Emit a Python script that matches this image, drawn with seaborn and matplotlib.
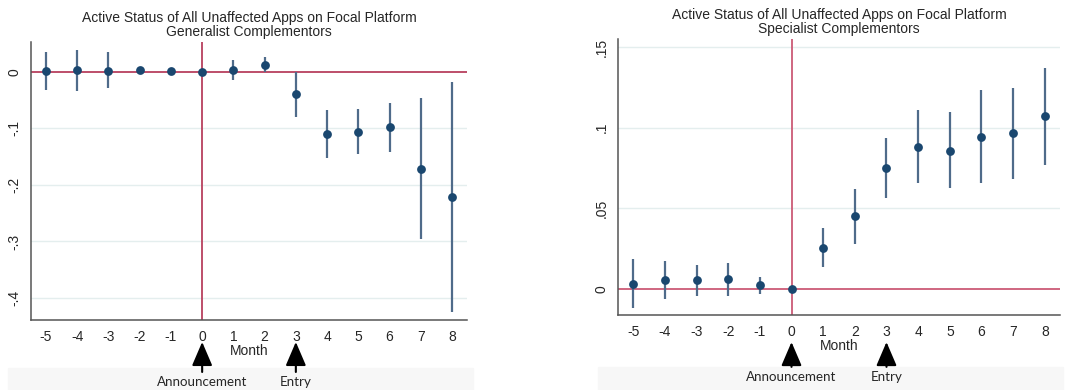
import numpy as np
import pandas as pd
import matplotlib.pyplot as plt
import seaborn as sns
from matplotlib.patches import Rectangle

sns.set_style("white")
plt.rcParams['font.family'] = ['Liberation Sans', 'DejaVu Sans']

months = [-5, -4, -3, -2, -1, 0, 1, 2, 3, 4, 5, 6, 7, 8]

gen_coef = [0.002, 0.003, 0.002, 0.004, 0.002, 0.0, 0.004, 0.013, -0.039, -0.110, -0.106, -0.098, -0.171, -0.221]
gen_hi = [0.036, 0.039, 0.035, 0.007, 0.004, 0.0, 0.021, 0.027, 0.0, -0.068, -0.065, -0.055, -0.046, -0.017]
gen_lo = [-0.032, -0.033, -0.029, 0.001, 0.0, 0.0, -0.015, 0.0, -0.079, -0.152, -0.146, -0.141, -0.296, -0.425]

spe_coef = [0.0035, 0.0058, 0.0056, 0.006, 0.0025, 0.0, 0.0258, 0.0452, 0.0749, 0.0883, 0.0858, 0.0944, 0.0967, 0.1072]
spe_hi = [0.0186, 0.0174, 0.0149, 0.0163, 0.0076, 0.0, 0.038, 0.062, 0.0938, 0.1109, 0.1097, 0.1237, 0.1249, 0.1372]
spe_lo = [-0.0114, -0.0062, -0.0043, -0.0043, -0.0031, 0.0, 0.0138, 0.0279, 0.0562, 0.066, 0.0626, 0.0656, 0.0685, 0.077]

gen_yticks = [0, -0.1, -0.2, -0.3, -0.4]
gen_ylabels = ["0", "-.1", "-.2", "-.3", "-.4"]
spe_yticks = [0, 0.05, 0.1, 0.15]
spe_ylabels = ["0", ".05", ".1", ".15"]

title_main = "Active Status of All Unaffected Apps on Focal Platform"
events = [(0, "Announcement"), (3, "Entry")]

navy = "#1a476f"
ci_col = "#4f6b8a"
grid_col = "#e4eeee"

fig = plt.figure(figsize=(10.7, 3.9), dpi=100)

# light grey band behind the event labels
fig.patches.append(Rectangle((8 / 1070, 0), 465 / 1070, 22 / 390, transform=fig.transFigure,
                             color="#f7f7f7", zorder=-5))
fig.patches.append(Rectangle((598 / 1070, 0), 465 / 1070, 23 / 390, transform=fig.transFigure,
                             color="#f7f7f7", zorder=-5))

ax1 = fig.add_axes([31 / 1070, 70 / 390, 436 / 1070, 278 / 390])
ax2 = fig.add_axes([618 / 1070, 75 / 390, 442 / 1070, 276 / 390])
for ax in (ax1, ax2):
    ax.patch.set_alpha(0)

panels = [
    (ax1, gen_coef, gen_lo, gen_hi, gen_yticks, gen_ylabels, (-0.439, 0.053), "Generalist Complementors",
     "#b8405e", (-0.079, -0.187, -0.223)),
    (ax2, spe_coef, spe_lo, spe_hi, spe_yticks, spe_ylabels, (-0.016, 0.155), "Specialist Complementors",
     "#cc5a76", (-0.098, -0.188, -0.225)),
]

for ax, coef, lo, hi, yt, yl, ylim, sub, rc, pos in panels:
    df = pd.DataFrame({"month": months, "coef": coef, "lo": lo, "hi": hi})
    for y in yt:
        if y != 0:
            ax.axhline(y, color=grid_col, lw=1, zorder=0)
    ax.axhline(0, color=rc, lw=1.3, zorder=1)
    ax.axvline(0, color=rc, lw=1.3, zorder=1)
    ax.vlines(df["month"], df["lo"], df["hi"], color=ci_col, lw=1.6, zorder=2)
    sns.scatterplot(data=df, x="month", y="coef", ax=ax, color=navy, s=40,
                    edgecolor=navy, linewidth=0, zorder=3)
    ax.set_xlim(-5.48, 8.48)
    ax.set_ylim(*ylim)
    ax.set_xticks(months)
    ax.set_xticklabels([str(m) for m in months], fontsize=10)
    ax.set_yticks(yt)
    ax.set_yticklabels(yl, fontsize=10, rotation=90, va="center")
    ax.set_xlabel("Month", fontsize=10, labelpad=0)
    ax.set_ylabel("")
    ax.set_title(title_main + "\n" + sub, fontsize=10, pad=4, linespacing=1.0)
    for s in ["top", "right"]:
        ax.spines[s].set_visible(False)
    for s in ["left", "bottom"]:
        ax.spines[s].set_color("#555555")
        ax.spines[s].set_linewidth(1.1)
    ax.tick_params(axis="both", direction="out", length=4, width=1, color="#555555", pad=3)

    tip, base, txt = pos
    for xm, lab in events:
        ax.annotate("", xy=(xm, tip), xytext=(xm, base), xycoords=("data", "axes fraction"),
                    textcoords=("data", "axes fraction"),
                    arrowprops=dict(arrowstyle="-|>,head_width=0.45,head_length=1.05", color="black",
                                    lw=1.5, shrinkA=0, shrinkB=0, mutation_scale=14),
                    annotation_clip=False)
        ax.text(xm, txt, lab, transform=ax.get_xaxis_transform(), ha="center", va="center",
                fontsize=9.6, family=["Lato", "DejaVu Sans"])

fig.savefig("out.png", dpi=100)
